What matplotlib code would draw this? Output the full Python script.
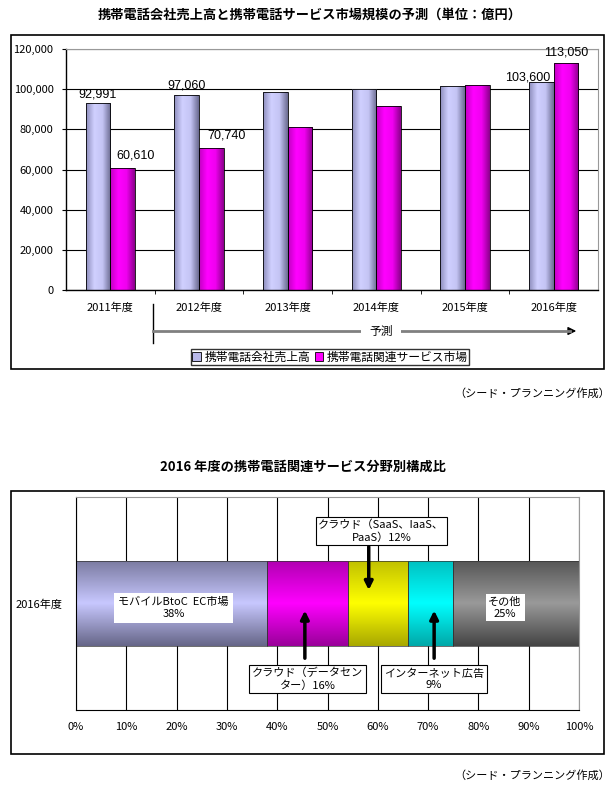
import numpy as np
import matplotlib
matplotlib.use("Agg")
import matplotlib.pyplot as plt
from matplotlib.colors import LinearSegmentedColormap
from matplotlib.patches import Rectangle, Patch
from matplotlib.lines import Line2D
from matplotlib.ticker import FuncFormatter

plt.rcParams['font.family'] = ['Noto Sans CJK JP', 'DejaVu Sans']

# --- data ---
years = ['2011年度', '2012年度', '2013年度', '2014年度', '2015年度', '2016年度']
carrier_sales = [92991, 97060, 98800, 100300, 101700, 103600]
service_market = [60610, 70740, 81000, 91700, 102000, 113050]
label_idx = [0, 1, 5]

seg_names = ['モバイルBtoC  EC市場\n38%', 'クラウド（データセン\nター）16%',
             'クラウド（SaaS、IaaS、\nPaaS）12%', 'インターネット広告\n9%', 'その他\n25%']
seg_values = [38, 16, 12, 9, 25]

W, H = 615, 787
fig = plt.figure(figsize=(W / 100, H / 100), dpi=100)
fig.patch.set_facecolor('white')


def fr(x0, y0, x1, y1):
    # pixel box (top-left origin) -> figure fraction rect
    return [x0 / W, 1 - y1 / H, (x1 - x0) / W, (y1 - y0) / H]


def fp(x, y):
    return (x, H - y)


def shade(ax, patch, colors, horizontal):
    x, y = patch.get_x(), patch.get_y()
    w, h = patch.get_width(), patch.get_height()
    cmap = LinearSegmentedColormap.from_list('g', colors)
    g = np.linspace(0, 1, 128)
    img = g[None, :] if horizontal else g[:, None]
    im = ax.imshow(img, cmap=cmap, extent=[x, x + w, y, y + h], aspect='auto',
                   origin='lower', zorder=patch.get_zorder() - 0.1)
    im.set_clip_path(patch)
    patch.set_facecolor('none')


# outer frames
for box in [(11, 35, 604, 369), (11, 491, 604, 754)]:
    r = fr(*box)
    fig.add_artist(Rectangle((r[0], r[1]), r[2], r[3], transform=fig.transFigure,
                             fill=False, edgecolor='black', lw=1.2))

# titles / notes
fig.text(310 / W, 1 - 15 / H, '携帯電話会社売上高と携帯電話サービス市場規模の予測（単位：億円）',
         ha='center', va='center', fontsize=9.5, fontweight='bold')
fig.text(303 / W, 1 - 467 / H, '2016 年度の携帯電話関連サービス分野別構成比',
         ha='center', va='center', fontsize=9.5, fontweight='bold')
for yy in (393, 775):
    fig.text(610 / W, 1 - yy / H, '（シード・プランニング作成）', ha='right', va='center', fontsize=8)

# --- top chart ---
ax = fig.add_axes(fr(66, 49, 598, 290))
x = np.arange(len(years))
bw = 0.28
b1 = ax.bar(x - bw / 2, carrier_sales, bw, color='#c0c0f0', edgecolor='black', lw=0.6, zorder=2)
b2 = ax.bar(x + bw / 2, service_market, bw, color='#ff00ff', edgecolor='black', lw=0.6, zorder=2)
for p in b1:
    shade(ax, p, ['#8c8cbb', '#d0d0ff', '#c4c4f4', '#6a6a90'], True)
for p in b2:
    shade(ax, p, ['#c000c0', '#ff00ff', '#f000f0', '#8a008a'], True)
ax.set_xlim(-0.5, len(years) - 0.5)
ax.set_ylim(0, 120000)
ax.set_yticks(range(0, 120001, 20000))
ax.yaxis.set_major_formatter(FuncFormatter(lambda v, _: f'{int(v):,}'))
ax.set_xticks(x)
ax.set_xticklabels(years)
ax.set_xticks(np.arange(0.5, len(years) - 0.5), minor=True)
ax.tick_params(axis='x', which='major', length=0, pad=9, labelsize=8)
ax.tick_params(axis='x', which='minor', length=3, direction='out')
ax.tick_params(axis='y', length=3, pad=6, labelsize=8)
ax.grid(axis='y', color='black', lw=0.8)
ax.set_axisbelow(True)
for s in ('top', 'right'):
    ax.spines[s].set_color('#999999')
ax.spines['left'].set_linewidth(1.0)
ax.spines['bottom'].set_linewidth(1.0)

offs1 = {0: (0, 9), 1: (0, 10), 5: (-14, 4)}
offs2 = {0: (13, 13), 1: (15, 12), 5: (0, 10)}
for i in label_idx:
    ax.annotate(f'{carrier_sales[i]:,}', (x[i] - bw / 2, carrier_sales[i]), xytext=offs1[i],
                textcoords='offset pixels', ha='center', va='center', fontsize=9,
                family=['Liberation Sans'])
    ax.annotate(f'{service_market[i]:,}', (x[i] + bw / 2, service_market[i]), xytext=offs2[i],
                textcoords='offset pixels', ha='center', va='center', fontsize=9,
                family=['Liberation Sans'])

# forecast arrow
fig.add_artist(Line2D([153 / W, 153 / W], [1 - 304 / H, 1 - 343 / H], transform=fig.transFigure,
                      color='black', lw=1))
fig.add_artist(Line2D([153 / W, 570 / W], [1 - 331 / H, 1 - 331 / H], transform=fig.transFigure,
                      color='#808080', lw=2))
ax.annotate('', xy=fp(579, 331), xytext=fp(565, 331), xycoords='figure pixels',
            textcoords='figure pixels',
            arrowprops=dict(arrowstyle='-|>', color='black', lw=1, mutation_scale=12))
fig.text(381 / W, 1 - 331 / H, '予測', ha='center', va='center', fontsize=8.5,
         bbox=dict(facecolor='white', edgecolor='none', pad=6))

handles = [Patch(facecolor='#b8b8e8', edgecolor='black', lw=0.6),
           Patch(facecolor='#ff00ff', edgecolor='black', lw=0.6)]
leg = fig.legend(handles, ['携帯電話会社売上高', '携帯電話関連サービス市場'], loc='center',
                 bbox_to_anchor=(330 / W, 1 - 357 / H), ncol=2, fontsize=8.5, frameon=True,
                 fancybox=False, handlelength=0.7, handleheight=0.7, handletextpad=0.3,
                 columnspacing=0.4, borderpad=0.15, borderaxespad=0)
leg.get_frame().set_edgecolor('black')
leg.get_frame().set_linewidth(1)

# --- bottom chart ---
bx = fig.add_axes(fr(76, 497, 579, 710))
lefts = np.concatenate([[0], np.cumsum(seg_values)[:-1]])
seg_colors = [['#666688', '#c8c8ff', '#7a7aa0'],
              ['#990099', '#ff00ff', '#b000b0'],
              ['#a8a800', '#ffff00', '#c0c000'],
              ['#00a8a8', '#00ffff', '#00c0c0'],
              ['#444444', '#9a9a9a', '#555555']]
bars = bx.barh(0, seg_values, left=lefts, height=0.8, color='white', edgecolor='#333333', lw=0.5,
               zorder=2)
for p, c in zip(bars, seg_colors):
    shade(bx, p, c, False)
bx.set_xlim(0, 100)
bx.set_ylim(-1, 1)
bx.set_xticks(range(0, 101, 10))
bx.set_xticklabels([f'{v}%' for v in range(0, 101, 10)])
bx.set_yticks([0])
bx.set_yticklabels(['2016年度'])
bx.tick_params(axis='x', length=0, pad=9, labelsize=8)
bx.tick_params(axis='y', length=0, pad=10, labelsize=8)
bx.grid(axis='x', color='black', lw=0.8)
bx.set_axisbelow(True)
for s in ('top', 'right'):
    bx.spines[s].set_color('#999999')

tfs = 8
bx.text(19.4, -0.04, seg_names[0], ha='center', va='center', fontsize=tfs, zorder=5,
        bbox=dict(facecolor='white', edgecolor='none', pad=3))
bx.text(85.3, -0.04, seg_names[4], ha='center', va='center', fontsize=tfs, zorder=5,
        bbox=dict(facecolor='white', edgecolor='none', pad=2))
bx.text(60.7, 0.68, seg_names[2], ha='center', va='center', fontsize=tfs, zorder=5,
        bbox=dict(facecolor='white', edgecolor='black', lw=0.8, pad=2))
bx.text(46.1, -0.71, seg_names[1], ha='center', va='center', fontsize=tfs, zorder=5,
        bbox=dict(facecolor='white', edgecolor='black', lw=0.8, pad=2))
bx.text(71.2, -0.71, seg_names[3], ha='center', va='center', fontsize=tfs, zorder=5,
        bbox=dict(facecolor='white', edgecolor='black', lw=0.8, pad=2))

arrow_kw = dict(arrowstyle='-|>', color='black', lw=2.5, mutation_scale=12)
bx.annotate('', xy=(58.2, 0.10), xytext=(58.2, 0.56), arrowprops=arrow_kw, zorder=4)
bx.annotate('', xy=(45.5, -0.04), xytext=(45.5, -0.54), arrowprops=arrow_kw, zorder=4)
bx.annotate('', xy=(71.2, -0.04), xytext=(71.2, -0.54), arrowprops=arrow_kw, zorder=4)

fig.savefig('out.png', dpi=100)
